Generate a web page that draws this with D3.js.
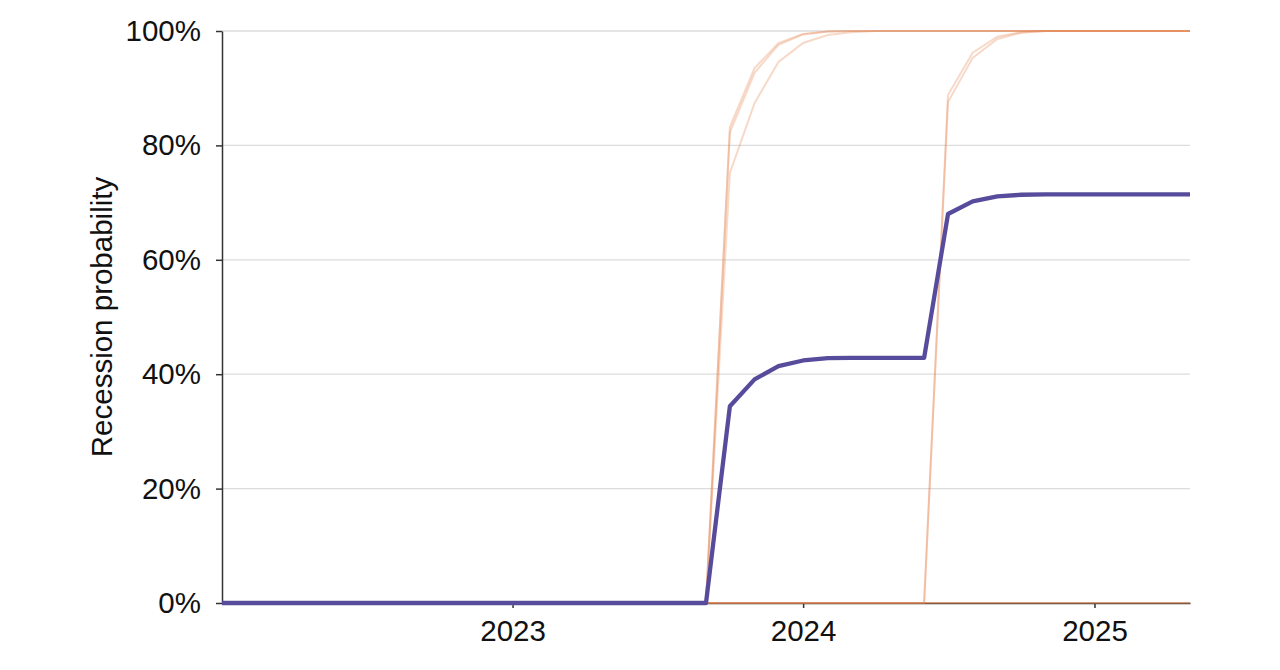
<!DOCTYPE html>
<html>
<head>
<meta charset="utf-8">
<script src="https://cdn.jsdelivr.net/npm/d3@7"></script>
<style>
  body { margin: 0; background: #fff; }
  svg text { font-family: Helvetica, Arial, "Liberation Sans", sans-serif; fill: #111; }
</style>
</head>
<body>
<div class="canvas"></div>
<script>
// monthly steps, Jan 2022 .. May 2025
const months = d3.utcMonth.range(new Date(Date.UTC(2022, 0, 1)), new Date(Date.UTC(2025, 5, 1)));
const yearTicks = ['2023', '2024', '2025'];
const yTicks = [0, 0.2, 0.4, 0.6, 0.8, 1];

// individual scenario paths (orange)
const pathA1 = [0,0,0,0,0,0,0,0,0,0,0,0,0,0,0,0,0,0,0,0,0, 0.832,0.935,0.979,0.995,0.999, 1,1,1,1,1,1,1,1,1,1,1,1,1,1,1];
const pathA2 = [0,0,0,0,0,0,0,0,0,0,0,0,0,0,0,0,0,0,0,0,0, 0.823,0.927,0.976,0.994,0.999, 1,1,1,1,1,1,1,1,1,1,1,1,1,1,1];
const pathA3 = [0,0,0,0,0,0,0,0,0,0,0,0,0,0,0,0,0,0,0,0,0, 0.752,0.874,0.946,0.979,0.993, 0.998,1,1,1,1,1,1,1,1,1,1,1,1,1,1];
const pathB1 = [0,0,0,0,0,0,0,0,0,0,0,0,0,0,0,0,0,0,0,0,0,0,0,0,0,0,0,0,0,0, 0.888,0.962,0.990,0.998, 1,1,1,1,1,1,1];
const pathB2 = [0,0,0,0,0,0,0,0,0,0,0,0,0,0,0,0,0,0,0,0,0,0,0,0,0,0,0,0,0,0, 0.876,0.953,0.986,0.997, 1,1,1,1,1,1,1];
const pathC1 = [0,0,0,0,0,0,0,0,0,0,0,0,0,0,0,0,0,0,0,0,0,0,0,0,0,0,0,0,0,0,0,0,0,0,0,0,0,0,0,0,0];
const pathC2 = [0,0,0,0,0,0,0,0,0,0,0,0,0,0,0,0,0,0,0,0,0,0,0,0,0,0,0,0,0,0,0,0,0,0,0,0,0,0,0,0,0];

// overall recession probability (purple)
const overall = [0,0,0,0,0,0,0,0,0,0,0,0,0,0,0,0,0,0,0,0,0,
  0.344,0.391,0.414,0.424,0.428,0.4286,0.4286,0.4286,0.4286,
  0.680,0.702,0.711,0.7137,0.7143,0.7143,0.7143,0.7143,0.7143,0.7143,0.7143];

const paths = [pathA1, pathA2, pathA3, pathB1, pathB2, pathC1, pathC2];

const dims = { width: 1280, height: 670 };
const margin = { top: 31, right: 90, bottom: 67, left: 222 };
const innerW = dims.width - margin.left - margin.right;
const innerH = dims.height - margin.top - margin.bottom;

const svg = d3.select('.canvas')
    .append('svg')
    .attr('width', dims.width)
    .attr('height', dims.height);

const graph = svg.append('g')
    .attr('transform', `translate(${margin.left},${margin.top})`);

const x = d3.scaleUtc()
    .domain(d3.extent(months))
    .range([0, innerW]);

const y = d3.scaleLinear()
    .domain([0, 1])
    .range([innerH, 0]);

// grid
graph.append('g')
    .selectAll('line')
    .data(yTicks)
    .join('line')
    .attr('x1', 0)
    .attr('x2', innerW)
    .attr('y1', d => y(d))
    .attr('y2', d => y(d))
    .attr('stroke', '#dcdcdc')
    .attr('stroke-width', 1.3);

// axes
const xAxis = d3.axisBottom(x)
    .tickValues(yearTicks.map(t => new Date(Date.UTC(+t, 0, 1))))
    .tickFormat(d3.utcFormat('%Y'))
    .tickSize(5)
    .tickPadding(8)
    .tickSizeOuter(0);

const yAxis = d3.axisLeft(y)
    .tickValues(yTicks)
    .tickFormat(d3.format('.0%'))
    .tickSize(6)
    .tickPadding(15)
    .tickSizeOuter(0);

const xg = graph.append('g')
    .attr('transform', `translate(0,${innerH})`)
    .call(xAxis);

const yg = graph.append('g').call(yAxis);

[xg, yg].forEach(g => {
    g.selectAll('.domain').attr('stroke', '#333').attr('stroke-width', 1.5);
    g.selectAll('.tick line').attr('stroke', '#333').attr('stroke-width', 1.5);
    g.selectAll('text').attr('font-size', 29.5).attr('fill', '#111')
        .attr('font-family', 'Helvetica, Arial, "Liberation Sans", sans-serif');
});
xg.selectAll('text').attr('dy', '0.85em');

svg.append('text')
    .attr('transform', `translate(112,${margin.top + innerH / 2}) rotate(-90)`)
    .attr('text-anchor', 'middle')
    .attr('font-size', 29.5)
    .text('Recession probability');

const line = d3.line()
    .x((d, i) => x(months[i]))
    .y(d => y(d));

// scenario paths
graph.append('g')
    .selectAll('path')
    .data(paths)
    .join('path')
    .attr('d', line)
    .attr('fill', 'none')
    .attr('stroke', '#e5814d')
    .attr('stroke-opacity', 0.3)
    .attr('stroke-width', 2);

// overall
graph.append('path')
    .datum(overall)
    .attr('d', line)
    .attr('fill', 'none')
    .attr('stroke', '#574c9b')
    .attr('stroke-width', 4.3)
    .attr('stroke-linejoin', 'round');
</script>
</body>
</html>
